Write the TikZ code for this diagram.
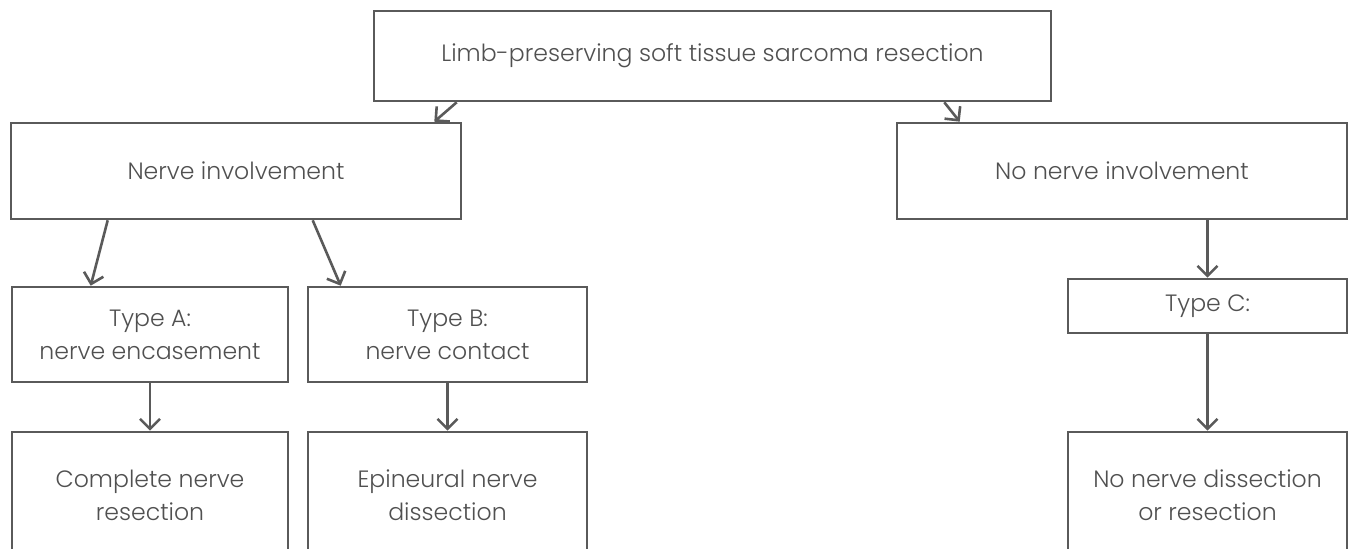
\documentclass[tikz,border=0pt]{standalone}
\usepackage{fontspec}
\setmainfont{Poppins}[UprightFont=* Light]
\usetikzlibrary{arrows.meta}
\definecolor{linegray}{HTML}{5A5A5A}
\definecolor{textgray}{HTML}{505050}

\begin{document}
\begin{tikzpicture}[x=0.5pt,y=-0.5pt]

      \useasboundingbox (0,0) rectangle (1348,549);
      \clip (0,0) rectangle (1348,549);

      \begin{scope}[every node/.style={rectangle,draw=linegray,line width=1.3pt,
          text=textgray,align=center,inner sep=0pt,
          font=\fontsize{11.8}{16.5}\selectfont}]
        \node[minimum width=338.5pt,minimum height=45pt] (1) at (712.5,56)  {Limb-preserving soft tissue sarcoma resection};
        \node[minimum width=225pt,minimum height=48pt]   (2) at (236,171)   {Nerve involvement};
        \node[minimum width=225pt,minimum height=48pt]   (3) at (1122,171)  {No nerve involvement};
        \node[minimum width=138pt,minimum height=47.5pt] (4) at (150,334.5) {Type A:\\nerve encasement};
        \node[minimum width=139.5pt,minimum height=47.5pt] (5) at (447.5,334.5) {Type B:\\nerve contact};
        \node[minimum width=139.5pt,minimum height=27pt] (6) at (1207.5,306) {Type C:};
        \node[minimum width=138pt,minimum height=63pt]   (7) at (150,495)   {Complete nerve\\resection};
        \node[minimum width=139.5pt,minimum height=63pt] (8) at (447.5,495) {Epineural nerve\\dissection};
        \node[minimum width=139.5pt,minimum height=63pt] (9) at (1207.5,495) {No nerve dissection\\or resection};
      \end{scope}

      \begin{scope}[every edge/.style={draw=linegray,line width=1.3pt,
          -{Straight Barb[length=5pt,width=10pt,line width=1.3pt]}}]
        \path ([xshift=42pt]1.south west)  edge ([xshift=-14pt]2.north east);
        \path ([xshift=-54pt]1.south east) edge ([xshift=32pt]3.north west);
        \path ([xshift=49pt]2.south west)  edge ([xshift=40pt]4.north west);
        \path ([xshift=151.5pt]2.south west) edge ([xshift=17pt]5.north west);
        \path (6.north |- 3.south) edge (6.north);
        \path (4) edge (7);
        \path (5) edge (8);
        \path (6) edge (9);
      \end{scope}

    \end{tikzpicture}
\end{document}
